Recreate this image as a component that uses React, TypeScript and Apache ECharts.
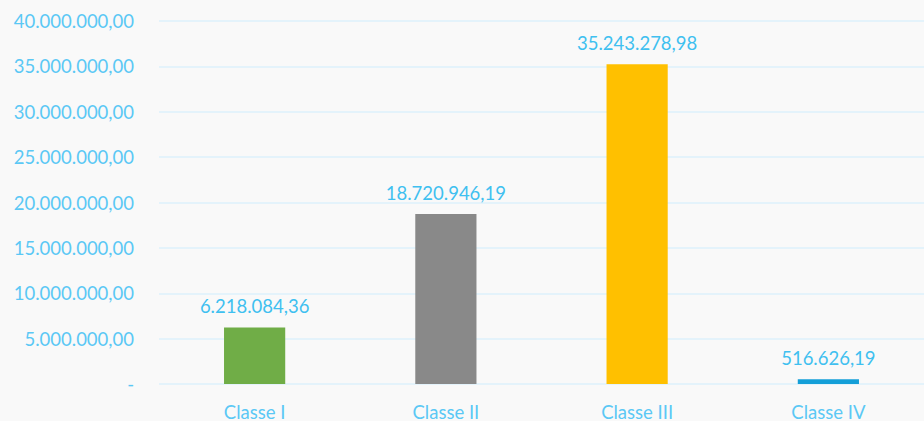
import React, { useEffect, useRef } from "react";
import * as echarts from "echarts";

const categories = ["Classe I", "Classe II", "Classe III", "Classe IV"];
const values = [6218084.36, 18720946.19, 35243278.98, 516626.19];
const barColors = ["#70ad47", "#898989", "#ffc000", "#149fd8"];
const yTicks = { min: 0, max: 40000000, interval: 5000000 };

function fmt(v: number): string {
  const [intPart, dec] = v.toFixed(2).split(".");
  const withDots = intPart.replace(/\B(?=(\d{3})+(?!\d))/g, ".");
  return withDots + "," + dec;
}

export default function App() {
  const ref = useRef<HTMLDivElement>(null);
  useEffect(() => {
    document.body.style.margin = "0";
    const chart = echarts.init(ref.current!, null, { renderer: "svg" });
    chart.setOption({
      animation: false,
      backgroundColor: "#f9f9f9",
      textStyle: { fontFamily: "Lato" },
      grid: { left: 159, right: 0, top: 21, bottom: 36, containLabel: false },
      xAxis: {
        type: "category",
        data: categories,
        axisLine: { show: false },
        axisTick: { show: false },
        axisLabel: { color: "#5bc8f5", fontSize: 18.5, margin: 18, fontFamily: "Lato" },
      },
      yAxis: {
        type: "value",
        min: yTicks.min,
        max: yTicks.max,
        interval: yTicks.interval,
        axisLine: { show: false },
        axisTick: { show: false },
        splitLine: { lineStyle: { color: "#dcf0fb", width: 1.5 } },
        axisLabel: {
          color: "#5bc8f5",
          fontSize: 18.5,
          margin: 25,
          fontFamily: "Lato",
          formatter: (v: number) => (v === 0 ? "-" : fmt(v)),
        },
      },
      series: [
        {
          type: "bar",
          barWidth: "32%",
          data: values.map((v, i) => ({ value: v, itemStyle: { color: barColors[i] } })),
          label: {
            show: true,
            position: "top",
            distance: 12,
            color: "#3fc0f0",
            fontSize: 18.5,
            fontFamily: "Lato",
            formatter: (p: any) => fmt(p.value),
          },
        },
      ],
    });
    return () => chart.dispose();
  }, []);
  return <div ref={ref} style={{ width: 924, height: 421 }} />;
}
